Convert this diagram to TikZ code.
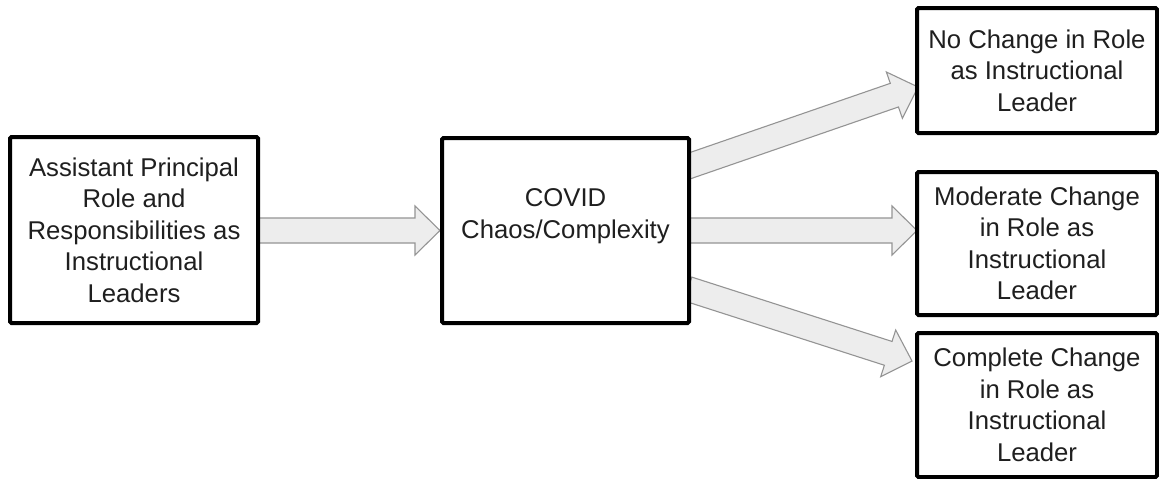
\documentclass[tikz,border=0pt]{standalone}
\usepackage{fontspec}
\setmainfont{Liberation Sans}
\usetikzlibrary{calc}

% text size used in every box
\newcommand{\lbl}{\fontsize{25.7}{31.5}\selectfont}

\tikzset{
  box/.style={draw=black, line width=4pt, fill=white, rounded corners=1.5pt,
              inner sep=0pt, align=center, font=\lbl, text=black!88},
  lbl/.style={align=center, font=\lbl, inner sep=0pt, text=black!88},
  barrow/.style={draw=black!42, fill=black!7, line width=1.1pt, line join=miter},
}

% broad block arrow from #1 (tail) to #2 (tip)
\newcommand{\blockarrow}[2]{%
  \coordinate (bh) at ($(#2)!25pt!(#1)$);
  \draw[barrow]
    ($(#1)!12.5pt!90:(#2)$) -- ($(bh)!12.5pt!90:(#2)$) -- ($(bh)!24.5pt!90:(#2)$)
    -- (#2)
    -- ($(bh)!24.5pt!-90:(#2)$) -- ($(bh)!12.5pt!-90:(#2)$) -- ($(#1)!12.5pt!-90:(#2)$)
    -- cycle;}

\begin{document}
\begin{tikzpicture}[x=1pt, y=-1pt]
\useasboundingbox (0,0) rectangle (1159,479);

% arrow end points
\coordinate (a1s) at (250,230.5);
\coordinate (a1e) at (440,230.5);
\coordinate (a2s) at (680,230.5);
\coordinate (a2e) at (917,230.5);
\coordinate (a3s) at (682,168.5);
\coordinate (a3e) at (918,87);
\coordinate (a4s) at (688,289);
\coordinate (a4e) at (912,361);

\blockarrow{a1s}{a1e}
\blockarrow{a2s}{a2e}
\blockarrow{a3s}{a3e}
\blockarrow{a4s}{a4e}

% boxes
\node[box, minimum width=248pt, minimum height=186pt] (ap) at (134,230)
  {Assistant Principal\\Role and\\Responsibilities as\\Instructional\\Leaders};
\node[box, minimum width=247pt, minimum height=185pt] (covid) at (565.5,230.5) {};
\node[lbl] (covidtxt) at (565.5,216) {COVID\\Chaos/Complexity};
\node[box, minimum width=240pt, minimum height=125pt] (nochg) at (1037,70.5)
  {No Change in Role\\as Instructional\\Leader};
\node[box, minimum width=240pt, minimum height=143pt] (modchg) at (1037,243.5)
  {Moderate Change\\in Role as\\Instructional\\Leader};
\node[box, minimum width=240pt, minimum height=144pt] (compchg) at (1037,405)
  {Complete Change\\in Role as\\Instructional\\Leader};
\end{tikzpicture}
\end{document}
